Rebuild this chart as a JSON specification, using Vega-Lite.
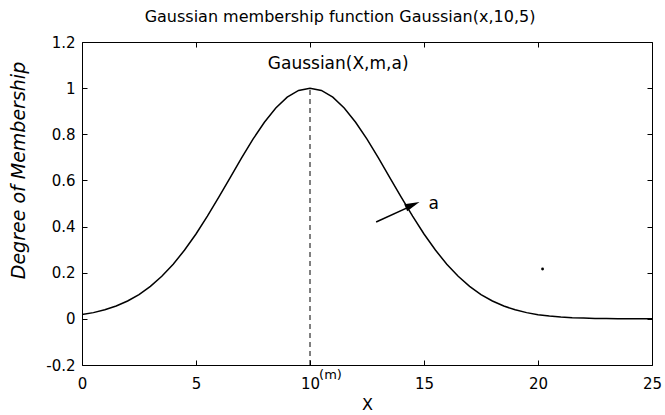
{
  "$schema": "https://vega.github.io/schema/vega-lite/v6.json",
  "width": 570,
  "height": 323,
  "autosize": {"type": "none"},
  "padding": {"left": 82, "top": 42, "right": 13, "bottom": 50},
  "background": "white",
  "config": {
    "font": "DejaVu Sans",
    "view": {"stroke": "black", "strokeWidth": 1},
    "axis": {
      "grid": false,
      "domain": false,
      "offset": -5,
      "ticks": true,
      "tickColor": "black",
      "tickOpacity": 1,
      "tickSize": 5,
      "tickWidth": 1,
      "labelColor": "black",
      "labelFont": "DejaVu Sans",
      "labelFontSize": 15,
      "labelFlush": false,
      "titleFont": "DejaVu Sans",
      "titleFontWeight": "normal",
      "titleColor": "black"
    }
  },
  "title": {
    "text": "Gaussian membership function Gaussian(x,10,5)",
    "font": "DejaVu Sans",
    "fontSize": 16,
    "fontWeight": "normal",
    "color": "black",
    "anchor": "middle",
    "dx": -27,
    "offset": 10
  },
  "datasets": {
    "curve": [
      {"x": 0, "y": 0.0183}, {"x": 0.5, "y": 0.0270}, {"x": 1, "y": 0.0392}, {"x": 1.5, "y": 0.0556},
      {"x": 2, "y": 0.0773}, {"x": 2.5, "y": 0.1054}, {"x": 3, "y": 0.1409}, {"x": 3.5, "y": 0.1845},
      {"x": 4, "y": 0.2369}, {"x": 4.5, "y": 0.2982}, {"x": 5, "y": 0.3679}, {"x": 5.5, "y": 0.4449},
      {"x": 6, "y": 0.5273}, {"x": 6.5, "y": 0.6126}, {"x": 7, "y": 0.6977}, {"x": 7.5, "y": 0.7788},
      {"x": 8, "y": 0.8521}, {"x": 8.5, "y": 0.9139}, {"x": 9, "y": 0.9608}, {"x": 9.5, "y": 0.9900},
      {"x": 10, "y": 1.0}, {"x": 10.5, "y": 0.9900}, {"x": 11, "y": 0.9608}, {"x": 11.5, "y": 0.9139},
      {"x": 12, "y": 0.8521}, {"x": 12.5, "y": 0.7788}, {"x": 13, "y": 0.6977}, {"x": 13.5, "y": 0.6126},
      {"x": 14, "y": 0.5273}, {"x": 14.5, "y": 0.4449}, {"x": 15, "y": 0.3679}, {"x": 15.5, "y": 0.2982},
      {"x": 16, "y": 0.2369}, {"x": 16.5, "y": 0.1845}, {"x": 17, "y": 0.1409}, {"x": 17.5, "y": 0.1054},
      {"x": 18, "y": 0.0773}, {"x": 18.5, "y": 0.0556}, {"x": 19, "y": 0.0392}, {"x": 19.5, "y": 0.0270},
      {"x": 20, "y": 0.0183}, {"x": 20.5, "y": 0.0122}, {"x": 21, "y": 0.0079}, {"x": 21.5, "y": 0.0050},
      {"x": 22, "y": 0.0032}, {"x": 22.5, "y": 0.0019}, {"x": 23, "y": 0.0012}, {"x": 23.5, "y": 0.0007},
      {"x": 24, "y": 0.0004}, {"x": 24.5, "y": 0.0002}, {"x": 25, "y": 0.0001}
    ],
    "centre": [{"x": 10, "y": -0.2, "y2": 1}],
    "arrow": [{"x": 12.9, "y": 0.42, "x2": 14.45, "y2": 0.49}],
    "head": [{"x": 14.5, "y": 0.494}],
    "labels": [
      {"x": 8.15, "y": 1.105, "text": "Gaussian(X,m,a)", "size": 17},
      {"x": 15.2, "y": 0.498, "text": "a", "size": 17},
      {"x": 10.4, "y": -0.245, "text": "(m)", "size": 13}
    ],
    "speck": [{"x": 20.2, "y": 0.216}]
  },
  "layer": [
    {
      "data": {"name": "curve"},
      "mark": {"type": "line", "color": "black", "strokeWidth": 1.5, "clip": true},
      "encoding": {
        "x": {
          "field": "x", "type": "quantitative",
          "scale": {"domain": [0, 25], "nice": false, "zero": false},
          "axis": {"orient": "bottom", "values": [0, 5, 10, 15, 20, 25], "labelPadding": 11,
                   "labelExpr": "'' + datum.value",
                   "title": "X", "titleFontSize": 16, "titleX": 285, "titleY": 44, "titleBaseline": "middle"}
        },
        "y": {
          "field": "y", "type": "quantitative",
          "scale": {"domain": [-0.2, 1.2], "nice": false, "zero": false},
          "axis": {"orient": "left", "values": [-0.2, 0, 0.2, 0.4, 0.6, 0.8, 1, 1.2], "labelPadding": 7,
                   "labelExpr": "'' + datum.value",
                   "title": "Degree of Membership", "titleFontSize": 19, "titleFontStyle": "italic",
                   "titleX": -69, "titleY": 128, "titleBaseline": "middle", "titleAngle": 270}
        }
      }
    },
    {
      "data": {"name": "centre"},
      "mark": {"type": "rule", "color": "black", "strokeWidth": 1, "strokeDash": [5, 4]},
      "encoding": {
        "x": {"field": "x", "type": "quantitative",
              "axis": {"orient": "top", "values": [0, 5, 10, 15, 20, 25], "labels": false, "title": null}},
        "y": {"field": "y", "type": "quantitative",
              "axis": {"orient": "right", "values": [-0.2, 0, 0.2, 0.4, 0.6, 0.8, 1, 1.2], "labels": false, "title": null}},
        "y2": {"field": "y2"}
      }
    },
    {
      "data": {"name": "arrow"},
      "mark": {"type": "rule", "color": "black", "strokeWidth": 1.5},
      "encoding": {
        "x": {"field": "x", "type": "quantitative", "axis": null},
        "y": {"field": "y", "type": "quantitative", "axis": null},
        "x2": {"field": "x2"},
        "y2": {"field": "y2"}
      }
    },
    {
      "data": {"name": "head"},
      "mark": {"type": "point", "filled": true, "color": "black", "opacity": 1,
               "shape": "M -1 -0.5 L 1 0 L -1 0.5 Z", "size": 225, "angle": -23},
      "encoding": {
        "x": {"field": "x", "type": "quantitative", "axis": null},
        "y": {"field": "y", "type": "quantitative", "axis": null}
      }
    },
    {
      "data": {"name": "labels"},
      "mark": {"type": "text", "align": "left", "baseline": "middle", "color": "black", "font": "DejaVu Sans"},
      "encoding": {
        "x": {"field": "x", "type": "quantitative", "axis": null},
        "y": {"field": "y", "type": "quantitative", "axis": null},
        "text": {"field": "text"},
        "size": {"field": "size", "type": "quantitative", "scale": null, "legend": null}
      }
    },
    {
      "data": {"name": "speck"},
      "mark": {"type": "circle", "color": "black", "opacity": 1, "size": 8},
      "encoding": {
        "x": {"field": "x", "type": "quantitative", "axis": null},
        "y": {"field": "y", "type": "quantitative", "axis": null}
      }
    }
  ]
}
